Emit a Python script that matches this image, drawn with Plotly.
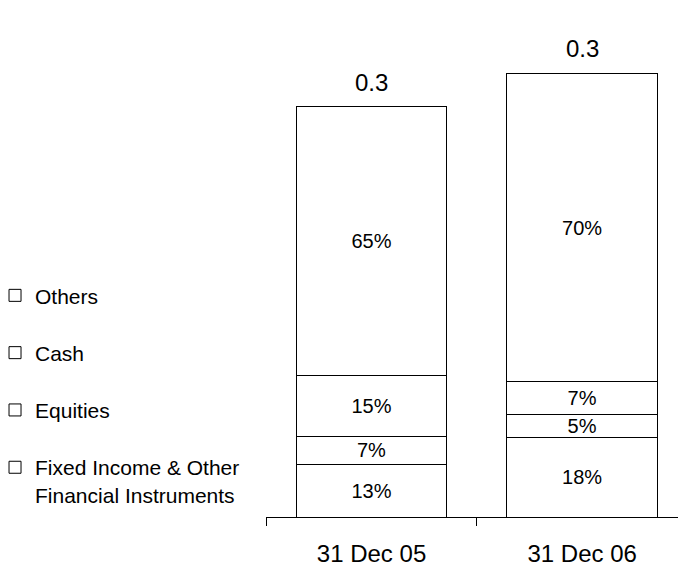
import plotly.graph_objects as go

categories = ["31 Dec 05", "31 Dec 06"]
series_names = ["Fixed Income & Other<br>Financial Instruments", "Equities", "Cash", "Others"]
fixed_income = [0.0358, 0.0536]
equities = [0.0189, 0.0158]
cash = [0.0412, 0.0220]
others = [0.1814, 0.2085]
pct_fixed_income = ["13%", "18%"]
pct_equities = ["7%", "5%"]
pct_cash = ["15%", "7%"]
pct_others = ["65%", "70%"]
totals = [0.2773, 0.2999]

FONT = "Liberation Sans, Arial, sans-serif"
values = [fixed_income, equities, cash, others]
labels = [pct_fixed_income, pct_equities, pct_cash, pct_others]

fig = go.Figure()
for i, (name, vals, txt) in enumerate(zip(series_names, values, labels)):
    fig.add_trace(go.Bar(
        x=categories, y=vals, name=name, text=txt,
        textposition="inside", insidetextanchor="middle", textangle=0,
        constraintext="none",
        textfont=dict(family=FONT, size=20, color="black"),
        marker=dict(color="white", line=dict(color="black", width=1)),
        width=0.715, legendgroup=f"g{i}", legendrank=10 - i,
        hoverinfo="skip",
    ))

for c, t in zip(categories, totals):
    fig.add_annotation(x=c, y=t, text=f"{t:.1f}", showarrow=False,
                       yanchor="bottom", yshift=9,
                       font=dict(family=FONT, size=24, color="black"))

# the page body adds an 8px offset, so the figure is 8px smaller
fig.update_layout(
    width=678, height=559,
    barmode="stack",
    plot_bgcolor="white", paper_bgcolor="white",
    margin=dict(l=258, r=0, t=0, b=50, autoexpand=False),
    font=dict(family=FONT, size=21, color="black"),
    showlegend=True,
    legend=dict(
        xref="paper", yref="container",
        x=-0.6452, xanchor="left", y=0.522, yanchor="top",
        traceorder="grouped", tracegroupgap=27, valign="top",
        font=dict(family=FONT, size=21, color="black"),
        bgcolor="rgba(0,0,0,0)",
    ),
    xaxis=dict(
        type="category", range=[-0.501, 1.493],
        showline=True, linecolor="black", linewidth=1,
        ticks="outside", tickson="boundaries", ticklen=8, tickcolor="black",
        ticklabelstandoff=15,
        tickfont=dict(family=FONT, size=24, color="black"),
        showgrid=False, zeroline=False, fixedrange=True,
    ),
    yaxis=dict(range=[0, 0.3441], visible=False, fixedrange=True),
)

fig.write_html("out.html")
